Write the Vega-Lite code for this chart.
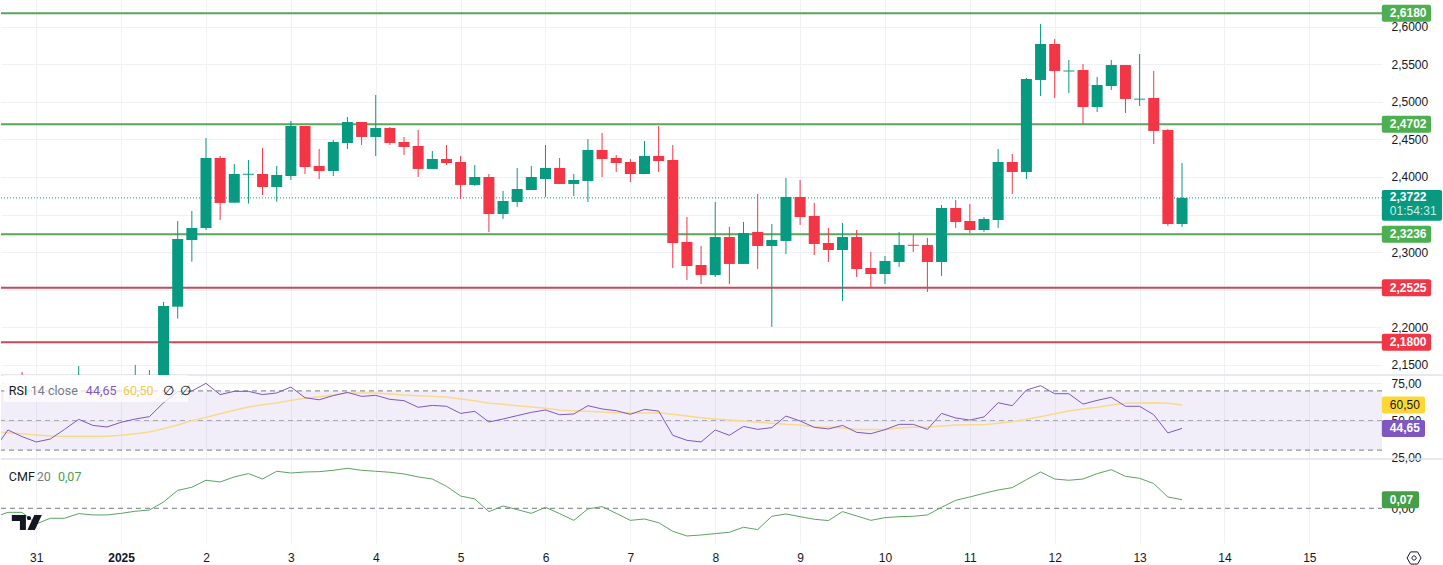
{
"$schema":"https://vega.github.io/schema/vega-lite/v6.json",
"padding":0,"autosize":{"type":"pad"},"background":"#ffffff","spacing":0,"bounds":"flush",
"config":{"view":{"stroke":null},"font":"Liberation Sans","concat":{"spacing":0},"axis":{"labelFont":"Liberation Sans"}},
"data":{"values":[{}]},
"datasets":{
"candles":[
{"t":"2024-12-30T20:00:00Z","o":2.12,"h":2.1403,"l":2.10,"c":2.11,"d":"down"},
{"t":"2024-12-31T12:00:00Z","o":2.11,"h":2.1483,"l":2.10,"c":2.12,"d":"up"},
{"t":"2025-01-01T04:00:00Z","o":2.11,"h":2.1497,"l":2.10,"c":2.12,"d":"up"},
{"t":"2025-01-01T08:00:00Z","o":2.11,"h":2.1430,"l":2.10,"c":2.12,"d":"up"},
{"t":"2025-01-01T12:00:00Z","o":2.12,"h":2.2336,"l":2.11,"c":2.2282,"d":"up"},
{"t":"2025-01-01T16:00:00Z","o":2.2273,"h":2.3414,"l":2.2113,"c":2.3174,"d":"up"},
{"t":"2025-01-01T20:00:00Z","o":2.3161,"h":2.3547,"l":2.2872,"c":2.3321,"d":"up"},
{"t":"2025-01-02T00:00:00Z","o":2.3321,"h":2.4519,"l":2.3294,"c":2.4253,"d":"up"},
{"t":"2025-01-02T04:00:00Z","o":2.4253,"h":2.4280,"l":2.3427,"c":2.3654,"d":"down"},
{"t":"2025-01-02T08:00:00Z","o":2.3658,"h":2.4173,"l":2.3658,"c":2.4040,"d":"up"},
{"t":"2025-01-02T12:00:00Z","o":2.4030,"h":2.4226,"l":2.3645,"c":2.4043,"d":"up"},
{"t":"2025-01-02T16:00:00Z","o":2.4040,"h":2.4386,"l":2.3760,"c":2.3867,"d":"down"},
{"t":"2025-01-02T20:00:00Z","o":2.3867,"h":2.4147,"l":2.3671,"c":2.4027,"d":"up"},
{"t":"2025-01-03T00:00:00Z","o":2.4013,"h":2.4746,"l":2.3960,"c":2.4679,"d":"up"},
{"t":"2025-01-03T04:00:00Z","o":2.4679,"h":2.4679,"l":2.4040,"c":2.4133,"d":"down"},
{"t":"2025-01-03T08:00:00Z","o":2.4147,"h":2.4373,"l":2.3973,"c":2.4080,"d":"down"},
{"t":"2025-01-03T12:00:00Z","o":2.4080,"h":2.4493,"l":2.4013,"c":2.4466,"d":"up"},
{"t":"2025-01-03T16:00:00Z","o":2.4453,"h":2.4799,"l":2.4373,"c":2.4732,"d":"up"},
{"t":"2025-01-03T20:00:00Z","o":2.4732,"h":2.4732,"l":2.4426,"c":2.4533,"d":"down"},
{"t":"2025-01-04T00:00:00Z","o":2.4533,"h":2.5092,"l":2.4280,"c":2.4652,"d":"up"},
{"t":"2025-01-04T04:00:00Z","o":2.4652,"h":2.4666,"l":2.4426,"c":2.4453,"d":"down"},
{"t":"2025-01-04T08:00:00Z","o":2.4466,"h":2.4533,"l":2.4293,"c":2.4400,"d":"down"},
{"t":"2025-01-04T12:00:00Z","o":2.4413,"h":2.4626,"l":2.4000,"c":2.4107,"d":"down"},
{"t":"2025-01-04T16:00:00Z","o":2.4107,"h":2.4346,"l":2.4107,"c":2.4240,"d":"up"},
{"t":"2025-01-04T20:00:00Z","o":2.4240,"h":2.4426,"l":2.4160,"c":2.4186,"d":"down"},
{"t":"2025-01-05T00:00:00Z","o":2.4200,"h":2.4280,"l":2.3707,"c":2.3894,"d":"down"},
{"t":"2025-01-05T04:00:00Z","o":2.3894,"h":2.4160,"l":2.3880,"c":2.4000,"d":"up"},
{"t":"2025-01-05T08:00:00Z","o":2.4000,"h":2.4040,"l":2.3268,"c":2.3507,"d":"down"},
{"t":"2025-01-05T12:00:00Z","o":2.3507,"h":2.3814,"l":2.3441,"c":2.3680,"d":"up"},
{"t":"2025-01-05T16:00:00Z","o":2.3667,"h":2.4120,"l":2.3601,"c":2.3840,"d":"up"},
{"t":"2025-01-05T20:00:00Z","o":2.3827,"h":2.4147,"l":2.3827,"c":2.4000,"d":"up"},
{"t":"2025-01-06T00:00:00Z","o":2.3973,"h":2.4426,"l":2.3734,"c":2.4120,"d":"up"},
{"t":"2025-01-06T04:00:00Z","o":2.4120,"h":2.4253,"l":2.3907,"c":2.3907,"d":"down"},
{"t":"2025-01-06T08:00:00Z","o":2.3907,"h":2.4040,"l":2.3747,"c":2.3960,"d":"up"},
{"t":"2025-01-06T12:00:00Z","o":2.3947,"h":2.4506,"l":2.3667,"c":2.4360,"d":"up"},
{"t":"2025-01-06T16:00:00Z","o":2.4360,"h":2.4586,"l":2.4000,"c":2.4240,"d":"down"},
{"t":"2025-01-06T20:00:00Z","o":2.4253,"h":2.4293,"l":2.4067,"c":2.4186,"d":"down"},
{"t":"2025-01-07T00:00:00Z","o":2.4200,"h":2.4240,"l":2.3933,"c":2.4040,"d":"down"},
{"t":"2025-01-07T04:00:00Z","o":2.4040,"h":2.4479,"l":2.4040,"c":2.4280,"d":"up"},
{"t":"2025-01-07T08:00:00Z","o":2.4280,"h":2.4679,"l":2.4067,"c":2.4213,"d":"down"},
{"t":"2025-01-07T12:00:00Z","o":2.4226,"h":2.4426,"l":2.2788,"c":2.3121,"d":"down"},
{"t":"2025-01-07T16:00:00Z","o":2.3135,"h":2.3467,"l":2.2629,"c":2.2815,"d":"down"},
{"t":"2025-01-07T20:00:00Z","o":2.2828,"h":2.3081,"l":2.2575,"c":2.2695,"d":"down"},
{"t":"2025-01-08T00:00:00Z","o":2.2695,"h":2.3667,"l":2.2668,"c":2.3201,"d":"up"},
{"t":"2025-01-08T04:00:00Z","o":2.3201,"h":2.3334,"l":2.2575,"c":2.2842,"d":"down"},
{"t":"2025-01-08T08:00:00Z","o":2.2842,"h":2.3401,"l":2.2842,"c":2.3254,"d":"up"},
{"t":"2025-01-08T12:00:00Z","o":2.3268,"h":2.3774,"l":2.2775,"c":2.3081,"d":"down"},
{"t":"2025-01-08T16:00:00Z","o":2.3081,"h":2.3374,"l":2.2003,"c":2.3161,"d":"up"},
{"t":"2025-01-08T20:00:00Z","o":2.3148,"h":2.3987,"l":2.2975,"c":2.3734,"d":"up"},
{"t":"2025-01-09T00:00:00Z","o":2.3734,"h":2.3960,"l":2.3361,"c":2.3467,"d":"down"},
{"t":"2025-01-09T04:00:00Z","o":2.3481,"h":2.3654,"l":2.2961,"c":2.3108,"d":"down"},
{"t":"2025-01-09T08:00:00Z","o":2.3121,"h":2.3321,"l":2.2868,"c":2.3028,"d":"down"},
{"t":"2025-01-09T12:00:00Z","o":2.3028,"h":2.3388,"l":2.2349,"c":2.3201,"d":"up"},
{"t":"2025-01-09T16:00:00Z","o":2.3201,"h":2.3294,"l":2.2668,"c":2.2775,"d":"down"},
{"t":"2025-01-09T20:00:00Z","o":2.2788,"h":2.3001,"l":2.2522,"c":2.2708,"d":"down"},
{"t":"2025-01-10T00:00:00Z","o":2.2708,"h":2.2948,"l":2.2575,"c":2.2882,"d":"up"},
{"t":"2025-01-10T04:00:00Z","o":2.2868,"h":2.3268,"l":2.2802,"c":2.3095,"d":"up"},
{"t":"2025-01-10T08:00:00Z","o":2.3097,"h":2.3228,"l":2.3001,"c":2.3084,"d":"down"},
{"t":"2025-01-10T12:00:00Z","o":2.3095,"h":2.3188,"l":2.2469,"c":2.2868,"d":"down"},
{"t":"2025-01-10T16:00:00Z","o":2.2868,"h":2.3627,"l":2.2682,"c":2.3587,"d":"up"},
{"t":"2025-01-10T20:00:00Z","o":2.3587,"h":2.3694,"l":2.3321,"c":2.3401,"d":"down"},
{"t":"2025-01-11T00:00:00Z","o":2.3414,"h":2.3641,"l":2.3254,"c":2.3294,"d":"down"},
{"t":"2025-01-11T04:00:00Z","o":2.3294,"h":2.3467,"l":2.3268,"c":2.3441,"d":"up"},
{"t":"2025-01-11T08:00:00Z","o":2.3427,"h":2.4373,"l":2.3321,"c":2.4200,"d":"up"},
{"t":"2025-01-11T12:00:00Z","o":2.4200,"h":2.4306,"l":2.3774,"c":2.4067,"d":"down"},
{"t":"2025-01-11T16:00:00Z","o":2.4067,"h":2.5318,"l":2.3973,"c":2.5305,"d":"up"},
{"t":"2025-01-11T20:00:00Z","o":2.5292,"h":2.6037,"l":2.5079,"c":2.5771,"d":"up"},
{"t":"2025-01-12T00:00:00Z","o":2.5771,"h":2.5838,"l":2.5052,"c":2.5412,"d":"down"},
{"t":"2025-01-12T04:00:00Z","o":2.5405,"h":2.5558,"l":2.5119,"c":2.5418,"d":"up"},
{"t":"2025-01-12T08:00:00Z","o":2.5425,"h":2.5505,"l":2.4706,"c":2.4932,"d":"down"},
{"t":"2025-01-12T12:00:00Z","o":2.4932,"h":2.5332,"l":2.4866,"c":2.5225,"d":"up"},
{"t":"2025-01-12T16:00:00Z","o":2.5212,"h":2.5558,"l":2.5159,"c":2.5491,"d":"up"},
{"t":"2025-01-12T20:00:00Z","o":2.5491,"h":2.5491,"l":2.4852,"c":2.5039,"d":"down"},
{"t":"2025-01-13T00:00:00Z","o":2.5030,"h":2.5638,"l":2.4946,"c":2.5043,"d":"up"},
{"t":"2025-01-13T04:00:00Z","o":2.5052,"h":2.5412,"l":2.4439,"c":2.4613,"d":"down"},
{"t":"2025-01-13T08:00:00Z","o":2.4626,"h":2.4639,"l":2.3348,"c":2.3374,"d":"down"},
{"t":"2025-01-13T12:00:00Z","o":2.3374,"h":2.4186,"l":2.3334,"c":2.3722,"d":"up"}
],
"levels":[
{"v":2.618,"label":"2,6180","k":"up"},
{"v":2.4702,"label":"2,4702","k":"up"},
{"v":2.3236,"label":"2,3236","k":"up"},
{"v":2.2525,"label":"2,2525","k":"down"},
{"v":2.18,"label":"2,1800","k":"down"}
],
"ind":[
{"t":"2024-12-30T12:00:00Z","rsi":30.0,"ma":42.2,"cmf":-0.073},
{"t":"2024-12-30T16:00:00Z","rsi":43.6,"ma":41.8,"cmf":-0.033},
{"t":"2024-12-30T20:00:00Z","rsi":39.1,"ma":41.1,"cmf":-0.033},
{"t":"2024-12-31T00:00:00Z","rsi":35.5,"ma":40.2,"cmf":-0.127},
{"t":"2024-12-31T04:00:00Z","rsi":37.5,"ma":39.5,"cmf":-0.081},
{"t":"2024-12-31T08:00:00Z","rsi":44.0,"ma":39.3,"cmf":-0.081},
{"t":"2024-12-31T12:00:00Z","rsi":50.8,"ma":39.3,"cmf":-0.043},
{"t":"2024-12-31T16:00:00Z","rsi":46.7,"ma":39.3,"cmf":-0.054},
{"t":"2024-12-31T20:00:00Z","rsi":45.6,"ma":39.3,"cmf":-0.054},
{"t":"2025-01-01T00:00:00Z","rsi":48.8,"ma":40.0,"cmf":-0.041},
{"t":"2025-01-01T04:00:00Z","rsi":51.0,"ma":41.1,"cmf":-0.024},
{"t":"2025-01-01T08:00:00Z","rsi":52.6,"ma":42.2,"cmf":-0.014},
{"t":"2025-01-01T12:00:00Z","rsi":62.0,"ma":44.5,"cmf":0.051},
{"t":"2025-01-01T16:00:00Z","rsi":69.5,"ma":47.0,"cmf":0.146},
{"t":"2025-01-01T20:00:00Z","rsi":69.9,"ma":49.9,"cmf":0.171},
{"t":"2025-01-02T00:00:00Z","rsi":75.1,"ma":52.1,"cmf":0.228},
{"t":"2025-01-02T04:00:00Z","rsi":67.5,"ma":54.6,"cmf":0.214},
{"t":"2025-01-02T08:00:00Z","rsi":69.7,"ma":56.9,"cmf":0.255},
{"t":"2025-01-02T12:00:00Z","rsi":69.7,"ma":59.1,"cmf":0.282},
{"t":"2025-01-02T16:00:00Z","rsi":67.5,"ma":60.7,"cmf":0.238},
{"t":"2025-01-02T20:00:00Z","rsi":68.6,"ma":61.8,"cmf":0.301},
{"t":"2025-01-03T00:00:00Z","rsi":72.6,"ma":63.6,"cmf":0.287},
{"t":"2025-01-03T04:00:00Z","rsi":65.4,"ma":65.0,"cmf":0.295},
{"t":"2025-01-03T08:00:00Z","rsi":64.0,"ma":66.1,"cmf":0.298},
{"t":"2025-01-03T12:00:00Z","rsi":66.8,"ma":67.2,"cmf":0.309},
{"t":"2025-01-03T16:00:00Z","rsi":69.0,"ma":68.6,"cmf":0.325},
{"t":"2025-01-03T20:00:00Z","rsi":66.3,"ma":68.6,"cmf":0.309},
{"t":"2025-01-04T00:00:00Z","rsi":67.0,"ma":68.6,"cmf":0.301},
{"t":"2025-01-04T04:00:00Z","rsi":64.3,"ma":67.9,"cmf":0.293},
{"t":"2025-01-04T08:00:00Z","rsi":63.4,"ma":67.2,"cmf":0.279},
{"t":"2025-01-04T12:00:00Z","rsi":58.9,"ma":66.8,"cmf":0.255},
{"t":"2025-01-04T16:00:00Z","rsi":60.2,"ma":66.3,"cmf":0.238},
{"t":"2025-01-04T20:00:00Z","rsi":59.6,"ma":65.9,"cmf":0.179},
{"t":"2025-01-05T00:00:00Z","rsi":54.8,"ma":64.5,"cmf":0.100},
{"t":"2025-01-05T04:00:00Z","rsi":56.2,"ma":63.4,"cmf":0.076},
{"t":"2025-01-05T08:00:00Z","rsi":49.0,"ma":61.6,"cmf":-0.027},
{"t":"2025-01-05T12:00:00Z","rsi":51.0,"ma":60.9,"cmf":0.019},
{"t":"2025-01-05T16:00:00Z","rsi":53.3,"ma":60.0,"cmf":-0.011},
{"t":"2025-01-05T20:00:00Z","rsi":55.5,"ma":59.1,"cmf":-0.041},
{"t":"2025-01-06T00:00:00Z","rsi":57.1,"ma":58.2,"cmf":0.008},
{"t":"2025-01-06T04:00:00Z","rsi":53.9,"ma":57.1,"cmf":-0.043},
{"t":"2025-01-06T08:00:00Z","rsi":54.4,"ma":56.6,"cmf":-0.098},
{"t":"2025-01-06T12:00:00Z","rsi":60.0,"ma":56.2,"cmf":-0.005},
{"t":"2025-01-06T16:00:00Z","rsi":57.8,"ma":55.7,"cmf":0.014},
{"t":"2025-01-06T20:00:00Z","rsi":56.6,"ma":55.3,"cmf":-0.041},
{"t":"2025-01-07T00:00:00Z","rsi":54.2,"ma":55.0,"cmf":-0.098},
{"t":"2025-01-07T04:00:00Z","rsi":57.5,"ma":55.0,"cmf":-0.087},
{"t":"2025-01-07T08:00:00Z","rsi":56.4,"ma":55.3,"cmf":-0.117},
{"t":"2025-01-07T12:00:00Z","rsi":40.0,"ma":54.2,"cmf":-0.187},
{"t":"2025-01-07T16:00:00Z","rsi":36.6,"ma":53.0,"cmf":-0.225},
{"t":"2025-01-07T20:00:00Z","rsi":35.5,"ma":51.9,"cmf":-0.217},
{"t":"2025-01-08T00:00:00Z","rsi":43.6,"ma":51.0,"cmf":-0.206},
{"t":"2025-01-08T04:00:00Z","rsi":40.0,"ma":50.3,"cmf":-0.195},
{"t":"2025-01-08T08:00:00Z","rsi":46.0,"ma":49.7,"cmf":-0.154},
{"t":"2025-01-08T12:00:00Z","rsi":44.0,"ma":48.8,"cmf":-0.173},
{"t":"2025-01-08T16:00:00Z","rsi":45.2,"ma":48.1,"cmf":-0.065},
{"t":"2025-01-08T20:00:00Z","rsi":53.0,"ma":47.4,"cmf":-0.046},
{"t":"2025-01-09T00:00:00Z","rsi":49.7,"ma":47.0,"cmf":-0.068},
{"t":"2025-01-09T04:00:00Z","rsi":45.4,"ma":45.8,"cmf":-0.089},
{"t":"2025-01-09T08:00:00Z","rsi":44.3,"ma":45.6,"cmf":-0.100},
{"t":"2025-01-09T12:00:00Z","rsi":46.7,"ma":44.9,"cmf":-0.027},
{"t":"2025-01-09T16:00:00Z","rsi":42.0,"ma":44.0,"cmf":-0.062},
{"t":"2025-01-09T20:00:00Z","rsi":41.1,"ma":44.0,"cmf":-0.098},
{"t":"2025-01-10T00:00:00Z","rsi":43.8,"ma":44.0,"cmf":-0.076},
{"t":"2025-01-10T04:00:00Z","rsi":47.4,"ma":44.9,"cmf":-0.068},
{"t":"2025-01-10T08:00:00Z","rsi":47.4,"ma":45.4,"cmf":-0.065},
{"t":"2025-01-10T12:00:00Z","rsi":44.0,"ma":45.6,"cmf":-0.054},
{"t":"2025-01-10T16:00:00Z","rsi":54.8,"ma":46.3,"cmf":0.008},
{"t":"2025-01-10T20:00:00Z","rsi":51.7,"ma":47.0,"cmf":0.065},
{"t":"2025-01-11T00:00:00Z","rsi":50.3,"ma":47.2,"cmf":0.092},
{"t":"2025-01-11T04:00:00Z","rsi":52.4,"ma":47.2,"cmf":0.122},
{"t":"2025-01-11T08:00:00Z","rsi":62.0,"ma":48.1,"cmf":0.149},
{"t":"2025-01-11T12:00:00Z","rsi":60.0,"ma":49.2,"cmf":0.168},
{"t":"2025-01-11T16:00:00Z","rsi":70.6,"ma":50.8,"cmf":0.233},
{"t":"2025-01-11T20:00:00Z","rsi":73.5,"ma":52.6,"cmf":0.295},
{"t":"2025-01-12T00:00:00Z","rsi":68.1,"ma":54.6,"cmf":0.238},
{"t":"2025-01-12T04:00:00Z","rsi":68.1,"ma":56.4,"cmf":0.228},
{"t":"2025-01-12T08:00:00Z","rsi":61.1,"ma":57.8,"cmf":0.238},
{"t":"2025-01-12T12:00:00Z","rsi":63.6,"ma":58.9,"cmf":0.282},
{"t":"2025-01-12T16:00:00Z","rsi":65.7,"ma":60.5,"cmf":0.314},
{"t":"2025-01-12T20:00:00Z","rsi":59.6,"ma":61.6,"cmf":0.260},
{"t":"2025-01-13T00:00:00Z","rsi":59.6,"ma":61.8,"cmf":0.244},
{"t":"2025-01-13T04:00:00Z","rsi":53.9,"ma":62.0,"cmf":0.201},
{"t":"2025-01-13T08:00:00Z","rsi":41.6,"ma":61.6,"cmf":0.092},
{"t":"2025-01-13T12:00:00Z","rsi":44.65,"ma":60.5,"cmf":0.07}
]
},
"vconcat":[
{"width":1381,"height":375,
"resolve":{"scale":{"color":"independent"}},
"layer":[
{"mark":{"type":"rule","stroke":"#dfe2e8","strokeWidth":1.5},
"encoding":{"x":{"datum":{"year":2024,"month":12,"date":30,"hours":14,"minutes":2,"utc":true},"type":"temporal","scale":{"type":"utc","padding":0,"domain":["2024-12-30T14:02:00Z","2025-01-15T20:33:00Z"]},
"axis":{"title":null,"grid":true,"gridColor":"#f0f1f5","labels":false,"ticks":false,"domain":false,"values":[{"year":2024,"month":12,"date":31,"utc":true},{"year":2025,"month":1,"date":1,"utc":true},{"year":2025,"month":1,"date":2,"utc":true},{"year":2025,"month":1,"date":3,"utc":true},{"year":2025,"month":1,"date":4,"utc":true},{"year":2025,"month":1,"date":5,"utc":true},{"year":2025,"month":1,"date":6,"utc":true},{"year":2025,"month":1,"date":7,"utc":true},{"year":2025,"month":1,"date":8,"utc":true},{"year":2025,"month":1,"date":9,"utc":true},{"year":2025,"month":1,"date":10,"utc":true},{"year":2025,"month":1,"date":11,"utc":true},{"year":2025,"month":1,"date":12,"utc":true},{"year":2025,"month":1,"date":13,"utc":true},{"year":2025,"month":1,"date":14,"utc":true},{"year":2025,"month":1,"date":15,"utc":true}]}},
"x2":{"datum":{"year":2025,"month":1,"date":16,"hours":17,"minutes":0,"utc":true}},
"y":{"datum":2.1363,"type":"quantitative","scale":{"padding":0,"domain":[2.1363,2.6357],"nice":false,"zero":false},
"axis":{"title":null,"orient":"right","grid":true,"gridColor":"#f0f1f5","ticks":false,"domain":false,"labelPadding":9,"labelFontSize":12,"labelColor":"#131722","values":[2.15,2.2,2.25,2.3,2.35,2.4,2.45,2.5,2.55,2.6],"labelExpr":"datum.value==2.25||datum.value==2.35?'':replace(format(datum.value,'.4f'),'.',',')"}}}},
{"mark":{"type":"rule","stroke":"#089981","strokeWidth":1,"strokeDash":[1,2]},"encoding":{"y":{"datum":2.3722,"type":"quantitative"}}},
{"data":{"name":"levels"},"mark":{"type":"rule","strokeWidth":2},
"encoding":{"y":{"field":"v","type":"quantitative"},"color":{"field":"k","type":"nominal","legend":null,"scale":{"domain":["up","down"],"range":["#5aa55b","#c8495a"]}}}},
{"data":{"name":"candles"},"mark":{"type":"rule","strokeWidth":1,"clip":true},
"encoding":{"x":{"field":"t","type":"temporal"},"y":{"field":"h","type":"quantitative"},"y2":{"field":"l"},"color":{"field":"d","type":"nominal","legend":null,"scale":{"domain":["up","down"],"range":["#089981","#f23645"]}}}},
{"data":{"name":"candles"},"mark":{"type":"bar","size":11,"clip":true,"orient":"vertical"},
"encoding":{"x":{"field":"t","type":"temporal"},"y":{"field":"o","type":"quantitative"},"y2":{"field":"c"},"color":{"field":"d","type":"nominal","legend":null,"scale":{"domain":["up","down"],"range":["#089981","#f23645"]}}}},
{"data":{"name":"levels"},"mark":{"type":"bar","size":17,"orient":"horizontal","cornerRadius":2},
"encoding":{"x":{"datum":{"year":2025,"month":1,"date":15,"hours":20,"minutes":30,"utc":true},"type":"temporal"},"x2":{"datum":{"year":2025,"month":1,"date":16,"hours":10,"minutes":25,"utc":true}},"y":{"field":"v","type":"quantitative"},"color":{"field":"k","type":"nominal","legend":null,"scale":{"domain":["up","down"],"range":["#4caf50","#f23645"]}}}},
{"data":{"name":"levels"},"mark":{"type":"text","align":"left","baseline":"middle","font":"Liberation Sans","fontSize":12,"fontWeight":"bold","color":"#ffffff"},
"encoding":{"x":{"datum":{"year":2025,"month":1,"date":15,"hours":22,"minutes":46,"utc":true},"type":"temporal"},"y":{"field":"v","type":"quantitative"},"text":{"field":"label"}}},
{"mark":{"type":"bar","orient":"horizontal","cornerRadius":2,"color":"#089981"},
"encoding":{"x":{"datum":{"year":2025,"month":1,"date":15,"hours":20,"minutes":30,"utc":true},"type":"temporal"},"x2":{"datum":{"year":2025,"month":1,"date":16,"hours":13,"minutes":32,"utc":true}},"y":{"datum":2.3827,"type":"quantitative"},"y2":{"datum":2.3418}}},
{"mark":{"type":"text","align":"left","baseline":"middle","fontSize":12,"fontWeight":"bold","color":"#ffffff"},
"encoding":{"x":{"datum":{"year":2025,"month":1,"date":15,"hours":22,"minutes":46,"utc":true},"type":"temporal"},"y":{"datum":2.3727,"type":"quantitative"},"text":{"value":"2,3722"}}},
{"mark":{"type":"text","align":"left","baseline":"middle","fontSize":12,"color":"#c8eee2"},
"encoding":{"x":{"datum":{"year":2025,"month":1,"date":15,"hours":22,"minutes":46,"utc":true},"type":"temporal"},"y":{"datum":2.3541,"type":"quantitative"},"text":{"value":"01:54:31"}}}
]},
{"width":1381,"height":84,
"layer":[
{"mark":{"type":"rule","stroke":"#dfe2e8","strokeWidth":1.5},
"encoding":{"x":{"datum":{"year":2024,"month":12,"date":30,"hours":14,"minutes":2,"utc":true},"type":"temporal","scale":{"type":"utc","padding":0,"domain":["2024-12-30T14:02:00Z","2025-01-15T20:33:00Z"]},
"axis":{"title":null,"grid":true,"gridColor":"#f0f1f5","labels":false,"ticks":false,"domain":false,"values":[{"year":2024,"month":12,"date":31,"utc":true},{"year":2025,"month":1,"date":1,"utc":true},{"year":2025,"month":1,"date":2,"utc":true},{"year":2025,"month":1,"date":3,"utc":true},{"year":2025,"month":1,"date":4,"utc":true},{"year":2025,"month":1,"date":5,"utc":true},{"year":2025,"month":1,"date":6,"utc":true},{"year":2025,"month":1,"date":7,"utc":true},{"year":2025,"month":1,"date":8,"utc":true},{"year":2025,"month":1,"date":9,"utc":true},{"year":2025,"month":1,"date":10,"utc":true},{"year":2025,"month":1,"date":11,"utc":true},{"year":2025,"month":1,"date":12,"utc":true},{"year":2025,"month":1,"date":13,"utc":true},{"year":2025,"month":1,"date":14,"utc":true},{"year":2025,"month":1,"date":15,"utc":true}]}},
"x2":{"datum":{"year":2025,"month":1,"date":16,"hours":17,"minutes":0,"utc":true}},
"y":{"datum":23.99,"type":"quantitative","scale":{"padding":0,"domain":[23.99,80.74],"nice":false,"zero":false},
"axis":{"title":null,"orient":"right","grid":true,"gridColor":"#f0f1f5","ticks":false,"domain":false,"labelPadding":9,"labelFontSize":12,"labelColor":"#131722","values":[25,50,75],"labelExpr":"replace(format(datum.value,'.2f'),'.',',')"}}}},
{"mark":{"type":"rect","color":"#7e57c2","opacity":0.1},"encoding":{"y":{"datum":70,"type":"quantitative"},"y2":{"datum":30}}},
{"mark":{"type":"rule","stroke":"#787b86","strokeWidth":1,"strokeDash":[5,4]},"encoding":{"y":{"datum":70,"type":"quantitative"}}},
{"mark":{"type":"rule","stroke":"#787b86","strokeWidth":1,"strokeDash":[5,4]},"encoding":{"y":{"datum":30,"type":"quantitative"}}},
{"mark":{"type":"rule","stroke":"#787b86","strokeWidth":1,"strokeDash":[5,4],"opacity":0.6},"encoding":{"y":{"datum":50,"type":"quantitative"}}},
{"data":{"name":"ind"},"mark":{"type":"line","stroke":"#f9d98c","strokeWidth":1.5,"clip":true},"encoding":{"x":{"field":"t","type":"temporal"},"y":{"field":"ma","type":"quantitative"}}},
{"data":{"name":"ind"},"mark":{"type":"line","stroke":"#7e57c2","strokeWidth":1,"clip":true},"encoding":{"x":{"field":"t","type":"temporal"},"y":{"field":"rsi","type":"quantitative"}}},
{"mark":{"type":"rect","color":"#ffffff","opacity":0.72},"encoding":{"x":{"datum":{"year":2024,"month":12,"date":30,"hours":14,"minutes":50,"utc":true},"type":"temporal"},"x2":{"datum":{"year":2025,"month":1,"date":1,"hours":18,"minutes":53,"utc":true}},"y":{"datum":80.7,"type":"quantitative"},"y2":{"datum":62.5}}},
{"mark":{"type":"text","align":"left","baseline":"middle","font":"Roboto","fontSize":12.5,"color":"#131722"},"encoding":{"x":{"datum":{"year":2024,"month":12,"date":30,"hours":16,"minutes":15,"utc":true},"type":"temporal"},"y":{"datum":69.6,"type":"quantitative"},"text":{"value":"RSI"}}},
{"mark":{"type":"text","align":"left","baseline":"middle","font":"Roboto","fontSize":12.5,"color":"#787b86"},"encoding":{"x":{"datum":{"year":2024,"month":12,"date":30,"hours":22,"minutes":28,"utc":true},"type":"temporal"},"y":{"datum":69.6,"type":"quantitative"},"text":{"value":"14 close"}}},
{"mark":{"type":"text","align":"left","baseline":"middle","font":"Roboto","fontSize":12.5,"color":"#7e57c2"},"encoding":{"x":{"datum":{"year":2024,"month":12,"date":31,"hours":14,"minutes":2,"utc":true},"type":"temporal"},"y":{"datum":69.6,"type":"quantitative"},"text":{"value":"44,65"}}},
{"mark":{"type":"text","align":"left","baseline":"middle","font":"Roboto","fontSize":12.5,"color":"#f7c948"},"encoding":{"x":{"datum":{"year":2025,"month":1,"date":1,"hours":0,"minutes":30,"utc":true},"type":"temporal"},"y":{"datum":69.6,"type":"quantitative"},"text":{"value":"60,50"}}},
{"mark":{"type":"text","align":"left","baseline":"middle","font":"Roboto","fontSize":12.5,"color":"#131722"},"encoding":{"x":{"datum":{"year":2025,"month":1,"date":1,"hours":11,"minutes":48,"utc":true},"type":"temporal"},"y":{"datum":69.6,"type":"quantitative"},"text":{"value":"∅"}}},
{"mark":{"type":"text","align":"left","baseline":"middle","font":"Roboto","fontSize":12.5,"color":"#131722"},"encoding":{"x":{"datum":{"year":2025,"month":1,"date":1,"hours":16,"minutes":37,"utc":true},"type":"temporal"},"y":{"datum":69.6,"type":"quantitative"},"text":{"value":"∅"}}},
{"mark":{"type":"bar","orient":"horizontal","size":17,"cornerRadius":2,"color":"#fdd835"},"encoding":{"x":{"datum":{"year":2025,"month":1,"date":15,"hours":20,"minutes":30,"utc":true},"type":"temporal"},"x2":{"datum":{"year":2025,"month":1,"date":16,"hours":8,"minutes":43,"utc":true}},"y":{"datum":60.5,"type":"quantitative"}}},
{"mark":{"type":"text","align":"left","baseline":"middle","fontSize":12,"color":"#131722"},"encoding":{"x":{"datum":{"year":2025,"month":1,"date":15,"hours":22,"minutes":46,"utc":true},"type":"temporal"},"y":{"datum":60.5,"type":"quantitative"},"text":{"value":"60,50"}}},
{"mark":{"type":"bar","orient":"horizontal","size":17,"cornerRadius":2,"color":"#7e57c2"},"encoding":{"x":{"datum":{"year":2025,"month":1,"date":15,"hours":20,"minutes":30,"utc":true},"type":"temporal"},"x2":{"datum":{"year":2025,"month":1,"date":16,"hours":8,"minutes":43,"utc":true}},"y":{"datum":44.65,"type":"quantitative"}}},
{"mark":{"type":"text","align":"left","baseline":"middle","fontSize":12,"fontWeight":"bold","color":"#ffffff"},"encoding":{"x":{"datum":{"year":2025,"month":1,"date":15,"hours":22,"minutes":46,"utc":true},"type":"temporal"},"y":{"datum":44.65,"type":"quantitative"},"text":{"value":"44,65"}}}
]},
{"width":1381,"height":84,
"layer":[
{"mark":{"type":"rule","stroke":"#787b86","strokeWidth":1,"strokeDash":[5,4]},
"encoding":{"x":{"datum":{"year":2024,"month":12,"date":30,"hours":14,"minutes":2,"utc":true},"type":"temporal","scale":{"type":"utc","padding":0,"domain":["2024-12-30T14:02:00Z","2025-01-15T20:33:00Z"]},
"axis":{"title":null,"grid":true,"gridColor":"#f0f1f5","ticks":false,"domain":false,"labelPadding":9,"labelFontSize":12,"labelColor":"#131722","labelFlush":false,"labelOverlap":false,"labelFontWeight":{"condition":{"test":"utcdate(datum.value)==1","value":"bold"},"value":"normal"},"labelExpr":"utcdate(datum.value)==1?'2025':''+utcdate(datum.value)","values":[{"year":2024,"month":12,"date":31,"utc":true},{"year":2025,"month":1,"date":1,"utc":true},{"year":2025,"month":1,"date":2,"utc":true},{"year":2025,"month":1,"date":3,"utc":true},{"year":2025,"month":1,"date":4,"utc":true},{"year":2025,"month":1,"date":5,"utc":true},{"year":2025,"month":1,"date":6,"utc":true},{"year":2025,"month":1,"date":7,"utc":true},{"year":2025,"month":1,"date":8,"utc":true},{"year":2025,"month":1,"date":9,"utc":true},{"year":2025,"month":1,"date":10,"utc":true},{"year":2025,"month":1,"date":11,"utc":true},{"year":2025,"month":1,"date":12,"utc":true},{"year":2025,"month":1,"date":13,"utc":true},{"year":2025,"month":1,"date":14,"utc":true},{"year":2025,"month":1,"date":15,"utc":true}]}},
"x2":{"datum":{"year":2025,"month":1,"date":15,"hours":20,"minutes":33,"utc":true}},
"y":{"datum":0,"type":"quantitative","scale":{"padding":0,"domain":[-0.2821,0.4008],"nice":false,"zero":false},
"axis":{"title":null,"orient":"right","grid":false,"ticks":false,"domain":false,"labelPadding":9,"labelFontSize":12,"labelColor":"#131722","values":[0],"labelExpr":"'0,00'"}}}},
{"data":{"name":"ind"},"mark":{"type":"line","stroke":"#5aa55f","strokeWidth":1,"clip":true},"encoding":{"x":{"field":"t","type":"temporal"},"y":{"field":"cmf","type":"quantitative"}}},
{"mark":{"type":"text","align":"left","baseline":"middle","font":"Roboto","fontSize":12.5,"color":"#131722"},"encoding":{"x":{"datum":{"year":2024,"month":12,"date":30,"hours":16,"minutes":15,"utc":true},"type":"temporal"},"y":{"datum":0.257,"type":"quantitative"},"text":{"value":"CMF"}}},
{"mark":{"type":"text","align":"left","baseline":"middle","font":"Roboto","fontSize":12.5,"color":"#787b86"},"encoding":{"x":{"datum":{"year":2024,"month":12,"date":31,"hours":0,"minutes":10,"utc":true},"type":"temporal"},"y":{"datum":0.257,"type":"quantitative"},"text":{"value":"20"}}},
{"mark":{"type":"text","align":"left","baseline":"middle","font":"Roboto","fontSize":12.5,"color":"#4c9f50"},"encoding":{"x":{"datum":{"year":2024,"month":12,"date":31,"hours":6,"minutes":7,"utc":true},"type":"temporal"},"y":{"datum":0.257,"type":"quantitative"},"text":{"value":"0,07"}}},
{"mark":{"type":"point","filled":true,"opacity":1,"color":"#131722","size":900,"shape":"M-1,-0.5 L-0.06,-0.5 L-0.06,0.5 L-0.46,0.5 L-0.46,-0.1 L-1,-0.1 Z M0,-0.3 A0.14,0.14 0 1 1 0.28,-0.3 A0.14,0.14 0 1 1 0,-0.3 Z M0.5,-0.5 L1,-0.5 L0.54,0.5 L0.04,0.5 Z"},"encoding":{"x":{"datum":{"year":2024,"month":12,"date":30,"hours":21,"minutes":20,"utc":true},"type":"temporal"},"y":{"datum":-0.1154,"type":"quantitative"}}},
{"mark":{"type":"bar","orient":"horizontal","size":17,"cornerRadius":2,"color":"#43a047"},"encoding":{"x":{"datum":{"year":2025,"month":1,"date":15,"hours":20,"minutes":30,"utc":true},"type":"temporal"},"x2":{"datum":{"year":2025,"month":1,"date":16,"hours":7,"minutes":1,"utc":true}},"y":{"datum":0.07,"type":"quantitative"}}},
{"mark":{"type":"text","align":"left","baseline":"middle","fontSize":12,"fontWeight":"bold","color":"#ffffff"},"encoding":{"x":{"datum":{"year":2025,"month":1,"date":15,"hours":22,"minutes":46,"utc":true},"type":"temporal"},"y":{"datum":0.07,"type":"quantitative"},"text":{"value":"0,07"}}},
{"mark":{"type":"point","filled":false,"opacity":1,"color":"#131722","strokeWidth":1,"size":196,"shape":"M-1,0 L-0.5,-0.87 L0.5,-0.87 L1,0 L0.5,0.87 L-0.5,0.87 Z M0.3,0 A0.3,0.3 0 1 1 -0.3,0 A0.3,0.3 0 1 1 0.3,0 Z"},"encoding":{"x":{"datum":{"year":2025,"month":1,"date":16,"hours":5,"minutes":37,"utc":true},"type":"temporal"},"y":{"datum":-0.404,"type":"quantitative"}}}
]}
]
}
